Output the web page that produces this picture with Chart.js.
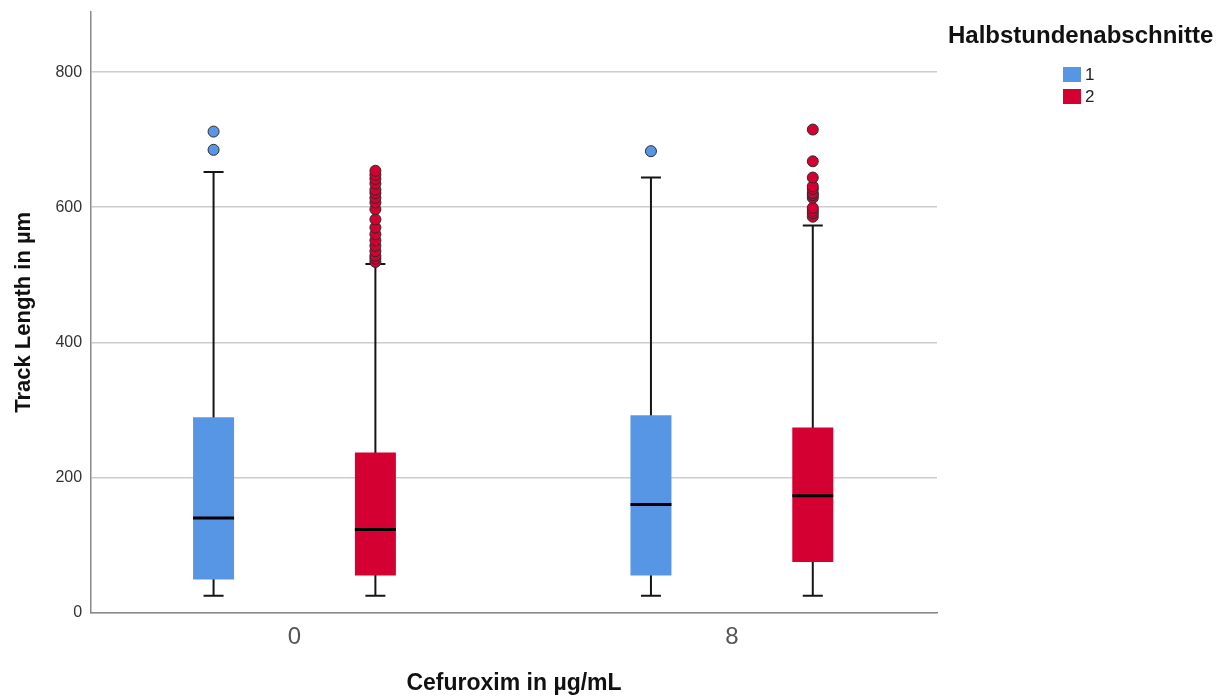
<!DOCTYPE html>
<html>
<head>
<meta charset="utf-8">
<script src="https://cdn.jsdelivr.net/npm/chart.js@4"></script>
<style>
	html, body { margin: 0; padding: 0; background: #fff; }
	#wrap { width: 1222px; height: 697px; }
</style>
</head>
<body>
<div id="wrap"><canvas id="boxchart"></canvas></div>
<script>
// categories on the x axis and the two series (Halbstundenabschnitte)
const categories = ["0", "8"];
const seriesLabels = ["1", "2"];
const seriesColors = ["#5796E5", "#D50032"];

// series 1 (blue), one value per category
const lowerWhisker1 = [25, 25];
const quartile1Series1 = [49, 55];
const median1 = [140, 160];
const quartile3Series1 = [289, 292];
const upperWhisker1 = [652, 644];
const outliers1 = [[685, 712], [683]];

// series 2 (red)
const lowerWhisker2 = [25, 25];
const quartile1Series2 = [55, 75];
const median2 = [123, 173];
const quartile3Series2 = [237, 274];
const upperWhisker2 = [516, 573];
const outliers2 = [
	[519, 524, 528, 535, 543, 551, 560, 570, 582, 597, 607, 614, 621, 626, 635, 642, 648, 654],
	[586, 591, 595, 599, 614, 618, 621, 627, 631, 644, 668, 715]
];

const yTicks = [0, 200, 400, 600, 800];

const boxSeries = [
	{ low: lowerWhisker1, q1: quartile1Series1, med: median1, q3: quartile3Series1, high: upperWhisker1, out: outliers1 },
	{ low: lowerWhisker2, q1: quartile1Series2, med: median2, q3: quartile3Series2, high: upperWhisker2, out: outliers2 }
];

// layout of the boxes inside a category (in x units), and styling
const groupOffsets = [-0.185, 0.185];
const capHalf = 10;

Chart.defaults.font.family = "'Liberation Sans', Arial, sans-serif";

const datasets = [];
boxSeries.forEach((s, si) => {
	const points = [];
	s.out.forEach((vals, ci) => {
		vals.forEach((v) => points.push({ x: ci + groupOffsets[si], y: v }));
	});
	datasets.push({
		type: "scatter",
		label: "out" + seriesLabels[si],
		data: points,
		backgroundColor: seriesColors[si],
		borderColor: "#2b2b2b",
		borderWidth: 1,
		pointRadius: 5.5,
		order: 0
	});
});
boxSeries.forEach((s, si) => {
	datasets.push({
		type: "bar",
		label: seriesLabels[si],
		data: categories.map((c, ci) => ({ x: ci + groupOffsets[si], y: [s.q1[ci], s.q3[ci]] })),
		backgroundColor: seriesColors[si],
		borderWidth: 0,
		grouped: false,
		maxBarThickness: 41,
		order: 1
	});
});

const boxPlotPlugin = {
	id: "boxPlot",
	beforeDatasetsDraw(chart) {
		const ctx = chart.ctx;
		const x = chart.scales.x;
		const y = chart.scales.y;
		ctx.save();
		ctx.strokeStyle = "#151515";
		ctx.lineWidth = 2;
		boxSeries.forEach((s, si) => {
			categories.forEach((c, ci) => {
				const px = x.getPixelForValue(ci + groupOffsets[si]);
				const lo = y.getPixelForValue(s.low[ci]);
				const hi = y.getPixelForValue(s.high[ci]);
				ctx.beginPath();
				ctx.moveTo(px, lo);
				ctx.lineTo(px, hi);
				ctx.moveTo(px - capHalf, lo);
				ctx.lineTo(px + capHalf, lo);
				ctx.moveTo(px - capHalf, hi);
				ctx.lineTo(px + capHalf, hi);
				ctx.stroke();
			});
		});
		ctx.restore();
	},
	afterDatasetsDraw(chart) {
		const ctx = chart.ctx;
		const y = chart.scales.y;
		ctx.save();
		ctx.strokeStyle = "#000";
		ctx.lineWidth = 3;
		boxSeries.forEach((s, si) => {
			const meta = chart.getDatasetMeta(boxSeries.length + si);
			categories.forEach((c, ci) => {
				const bar = meta.data[ci];
				const py = y.getPixelForValue(s.med[ci]);
				ctx.beginPath();
				ctx.moveTo(bar.x - bar.width / 2, py);
				ctx.lineTo(bar.x + bar.width / 2, py);
				ctx.stroke();
			});
		});
		ctx.restore();
	}
};

// legend drawn in the right margin: title, then one swatch per series
const legendPlugin = {
	id: "sideLegend",
	afterDraw(chart) {
		const ctx = chart.ctx;
		const left = chart.chartArea.right;
		ctx.save();
		ctx.fillStyle = "#111";
		ctx.font = "bold 24px 'Liberation Sans', Arial, sans-serif";
		ctx.textBaseline = "middle";
		ctx.textAlign = "left";
		ctx.fillText("Halbstundenabschnitte", left + 11, 36);
		seriesLabels.forEach((lab, i) => {
			const cy = 74 + i * 22;
			ctx.fillStyle = seriesColors[i];
			ctx.fillRect(left + 126, cy - 7, 18, 15);
			ctx.fillStyle = "#222";
			ctx.font = "17px 'Liberation Sans', Arial, sans-serif";
			ctx.fillText(lab, left + 148, cy + 1);
		});
		ctx.restore();
	}
};

new Chart(document.getElementById("boxchart"), {
	type: "bar",
	data: { datasets: datasets },
	options: {
		responsive: true,
		maintainAspectRatio: false,
		animation: false,
		layout: { padding: { top: 12, right: 285, left: 0, bottom: 0 } },
		plugins: {
			legend: { display: false },
			tooltip: { enabled: false }
		},
		scales: {
			x: {
				type: "linear",
				min: -0.465,
				max: 1.469,
				offset: false,
				afterBuildTicks: (scale) => {
					scale.ticks = categories.map((c, i) => ({ value: i }));
				},
				ticks: {
					callback: (v) => categories[v],
					color: "#555",
					font: { size: 24 },
					padding: 10
				},
				grid: { drawOnChartArea: false, drawTicks: false },
				border: { color: "#8a8a8a", width: 1.5 },
				title: {
					display: true,
					text: "Cefuroxim in µg/mL",
					color: "#111",
					font: { size: 23, weight: "bold" },
					padding: { top: 8, bottom: 0 }
				}
			},
			y: {
				min: 0,
				max: 889,
				afterBuildTicks: (scale) => {
					scale.ticks = yTicks.map((v) => ({ value: v }));
				},
				afterFit: (scale) => {
					scale.paddingTop = 0;
				},
				ticks: {
					color: "#333",
					font: { size: 16 },
					padding: 9
				},
				grid: { color: "#cccccc", lineWidth: 1.5, drawTicks: false },
				border: { color: "#8a8a8a", width: 1.5 },
				title: {
					display: true,
					text: "Track Length in µm",
					color: "#111",
					font: { size: 22, weight: "bold" },
					padding: { top: 11, bottom: 9 }
				}
			}
		}
	},
	plugins: [boxPlotPlugin, legendPlugin]
});
</script>
</body>
</html>
